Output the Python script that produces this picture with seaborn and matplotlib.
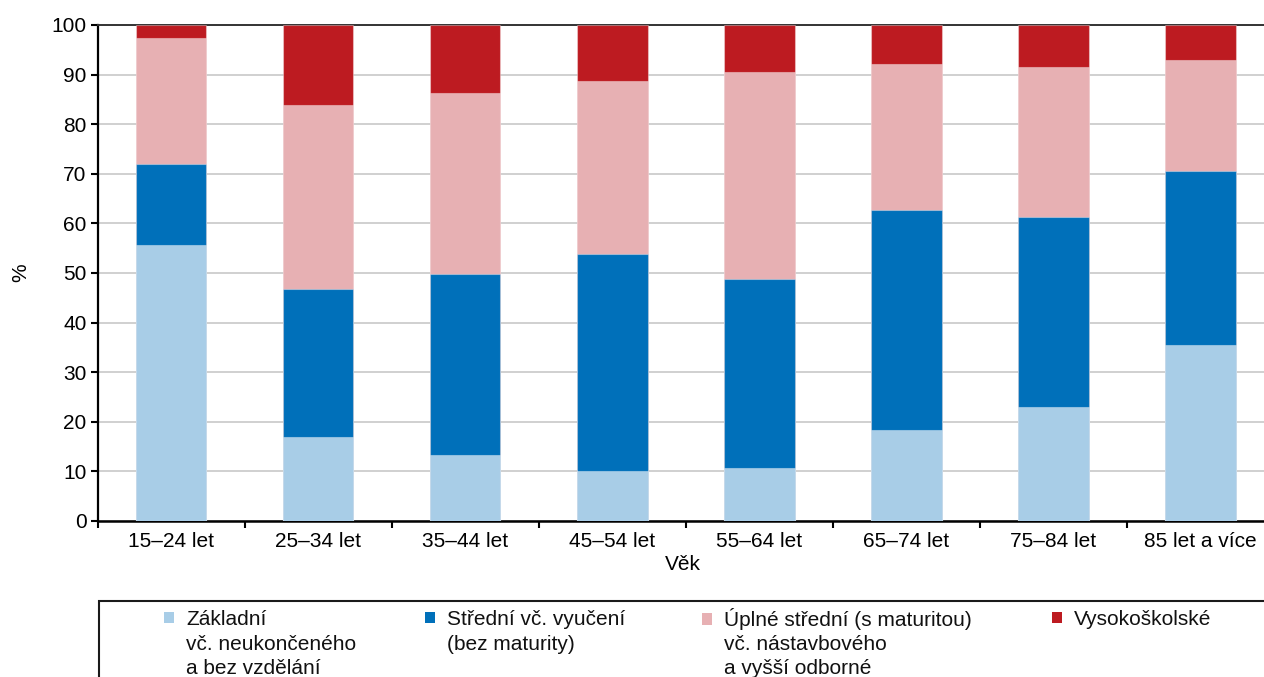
import numpy as np
import pandas as pd
import matplotlib
matplotlib.use("Agg")
import matplotlib.pyplot as plt
import seaborn as sns
from matplotlib.patches import Patch, Rectangle
from matplotlib.ticker import FixedLocator, NullFormatter

# ---------------- data ----------------
categories = ["15–24 let", "25–34 let", "35–44 let", "45–54 let",
              "55–64 let", "65–74 let", "75–84 let", "85 let a více"]
zakladni = [55.6, 16.9, 13.3, 10.1, 10.7, 18.3, 23.0, 35.5]
stredni = [16.4, 29.9, 36.5, 43.7, 38.1, 44.4, 38.3, 35.1]
uplne = [25.4, 37.1, 36.4, 34.9, 41.7, 29.4, 30.2, 22.3]
vysoko = [2.6, 16.1, 13.8, 11.3, 9.5, 7.9, 8.5, 7.1]

series_names = ["Základní", "Střední vč. vyučení", "Úplné střední (s maturitou)", "Vysokoškolské"]
legend_lines = [["Základní", "vč. neukončeného", "a bez vzdělání"],
                ["Střední vč. vyučení", "(bez maturity)"],
                ["Úplné střední (s maturitou)", "vč. nástavbového", "a vyšší odborné"],
                ["Vysokoškolské"]]
colors = ["#A8CDE7", "#0070BA", "#E7B0B3", "#BD1B21"]
y_ticks = [0, 10, 20, 30, 40, 50, 60, 70, 80, 90, 100]

# ---------------- styling ----------------
sns.set_style("white")
plt.rcParams["font.family"] = ["Liberation Sans", "DejaVu Sans"]
FS = 15

W, H = 1264, 677
fig = plt.figure(figsize=(W / 100, H / 100), dpi=100)
ax = fig.add_axes([97.5 / W, (H - 521) / H, (1274 - 97.5) / W, (521 - 25) / H])

df = pd.DataFrame({"Věk": categories, series_names[0]: zakladni, series_names[1]: stredni,
                   series_names[2]: uplne, series_names[3]: vysoko})
cum = df[series_names].cumsum(axis=1)

# draw stacked bars (tallest cumulative first, then overlay)
for name, col in reversed(list(zip(series_names, colors))):
    sns.barplot(x=df["Věk"], y=cum[name], color=col, saturation=1, width=0.48,
                errorbar=None, ax=ax, edgecolor=(1, 1, 1, 0.35), linewidth=0.8, zorder=3)

ax.set_ylim(0, 100)
ax.set_xlim(-0.5, len(categories) - 0.5)
ax.set_yticks(y_ticks)
ax.yaxis.grid(True, color="#C8C8C8", linewidth=1.2, zorder=0)
ax.xaxis.grid(False)
ax.set_axisbelow(True)

for s in ["left", "bottom", "top"]:
    ax.spines[s].set_visible(True)
    ax.spines[s].set_color("black")
ax.spines["left"].set_linewidth(1.6)
ax.spines["bottom"].set_linewidth(1.8)
ax.spines["top"].set_linewidth(1.4)
ax.spines["top"].set_color("#333333")
ax.spines["right"].set_visible(False)

ax.tick_params(axis="y", which="major", direction="out", length=5, width=1.5,
               labelsize=FS, pad=3, colors="black", left=True)
ax.tick_params(axis="x", which="major", length=0, labelsize=FS, pad=8, bottom=True)
ax.xaxis.set_minor_locator(FixedLocator(np.arange(-0.5, len(categories), 1.0)))
ax.xaxis.set_minor_formatter(NullFormatter())
ax.tick_params(axis="x", which="minor", direction="out", length=5, width=1.5,
               bottom=True, color="black")
for lab in ax.get_xticklabels() + ax.get_yticklabels():
    lab.set_color("black")

ax.set_xlabel("Věk", fontsize=FS, color="black")
ax.xaxis.set_label_coords(0.4977, -0.069)
ax.set_ylabel("%", fontsize=FS, color="black")
ax.yaxis.set_label_coords(-0.057, 0.5)

# ---------------- legend ----------------
frame = Rectangle((99 / W, -0.2), 2.0, (H - 601) / H + 0.2, transform=fig.transFigure,
                  fill=False, edgecolor="#1A1A1A", linewidth=1.5, clip_on=False)
fig.add_artist(frame)

fs_px = FS * 100 / 72
hx = [164, 425, 702, 1052]
hsize = 10
gap = 12
for i, (lines, col) in enumerate(zip(legend_lines, colors)):
    leg = fig.legend(handles=[Patch(facecolor=col, edgecolor="none", label=lines[0])],
                     loc="center left", bbox_to_anchor=(hx[i] / W, (H - 619.5) / H),
                     frameon=False, fontsize=FS, borderpad=0, borderaxespad=0,
                     handlelength=hsize / fs_px, handleheight=hsize / fs_px,
                     handletextpad=gap / fs_px)
    for t in leg.get_texts():
        t.set_color("#111111")
    tx = hx[i] + hsize + gap
    for j, extra in enumerate(lines[1:]):
        fig.text(tx / W, (H - (650.5 + 23.5 * j)) / H, extra, fontsize=FS,
                 ha="left", va="baseline", color="#111111")

fig.savefig("out.png", dpi=100)
